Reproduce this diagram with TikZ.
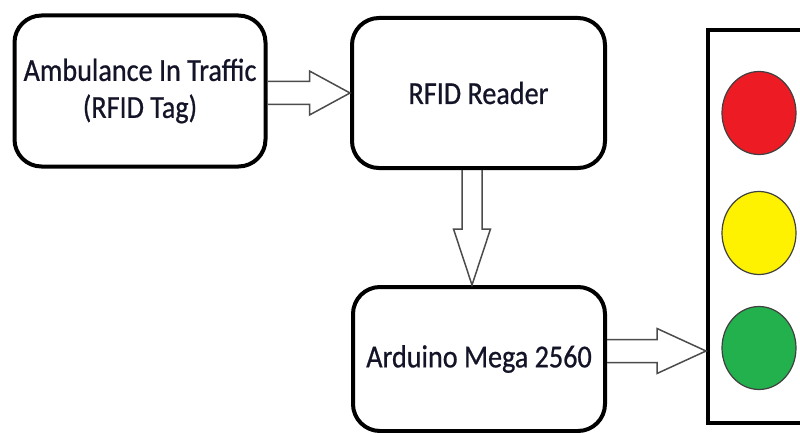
\documentclass[tikz,border=0pt]{standalone}
\usepackage{fontspec}
\setmainfont[FakeStretch=0.88,FakeBold=0.7]{Carlito}
\usetikzlibrary{calc,shapes.geometric}
\definecolor{lampred}{RGB}{237,28,36}
\definecolor{lampyellow}{RGB}{255,242,0}
\definecolor{lampgreen}{RGB}{34,177,76}
\definecolor{textdark}{RGB}{20,20,40}
\begin{document}
\begin{tikzpicture}[x=1pt, y=-1pt,
    block/.style={draw, line width=4pt, rounded corners=27pt, align=center,
      font=\fontsize{32}{37}\selectfont, text=textdark, inner sep=0pt},
    hollow/.style={draw=black!70, line width=1.5pt, line join=miter},
    lamp/.style={ellipse, draw=black!75, line width=1.2pt, inner sep=0pt,
      minimum width=74pt, minimum height=83pt}]
  \clip (0,0) rectangle (800,433);
  \fill[white] (0,0) rectangle (800,433);
  \node[block, minimum width=251pt, minimum height=151pt] (tag) at (140,91)
    {Ambulance In Traffic\\(RFID Tag)};
  \node[block, minimum width=253pt, minimum height=150pt] (reader) at (478.5,93)
    {RFID Reader};
  \node[block, minimum width=252pt, minimum height=144pt] (mega) at (479,359)
    {Arduino Mega 2560};
  \node[draw, line width=4pt, minimum width=122pt, minimum height=393pt,
    inner sep=0pt] (lights) at (769,226.5) {};
  \node[lamp, fill=lampred] (red) at (759,113) {};
  \node[lamp, fill=lampyellow] (yellow) at (759,233) {};
  \node[lamp, fill=lampgreen] (green) at (759,348) {};
  % tag -> reader
  \coordinate (a1) at (tag.east |- reader.west);
  \draw[hollow] ($(a1)+(0,-11.5)$) -- ($(a1)+(42,-11.5)$) -- ($(a1)+(42,-22)$)
    -- (reader.west) -- ($(a1)+(42,22)$) -- ($(a1)+(42,11.5)$) -- ($(a1)+(0,11.5)$);
  % reader -> mega
  \coordinate (a2) at ($(reader.south)+(-6.5,0)$);
  \coordinate (t2) at (a2 |- mega.north);
  \draw[hollow] ($(a2)+(-10,0)$) -- ($(a2)+(-10,59)$) -- ($(a2)+(-18.5,59)$)
    -- (t2) -- ($(a2)+(18.5,59)$) -- ($(a2)+(10,59)$) -- ($(a2)+(10,0)$);
  % mega -> lights
  \coordinate (a3) at ($(mega.east)+(0,-8)$);
  \coordinate (t3) at (a3 -| lights.west);
  \draw[hollow] ($(a3)+(0,-11.5)$) -- ($(a3)+(50,-11.5)$) -- ($(a3)+(50,-22.5)$)
    -- (t3) -- ($(a3)+(50,22.5)$) -- ($(a3)+(50,11.5)$) -- ($(a3)+(0,11.5)$);
\end{tikzpicture}
\end{document}
